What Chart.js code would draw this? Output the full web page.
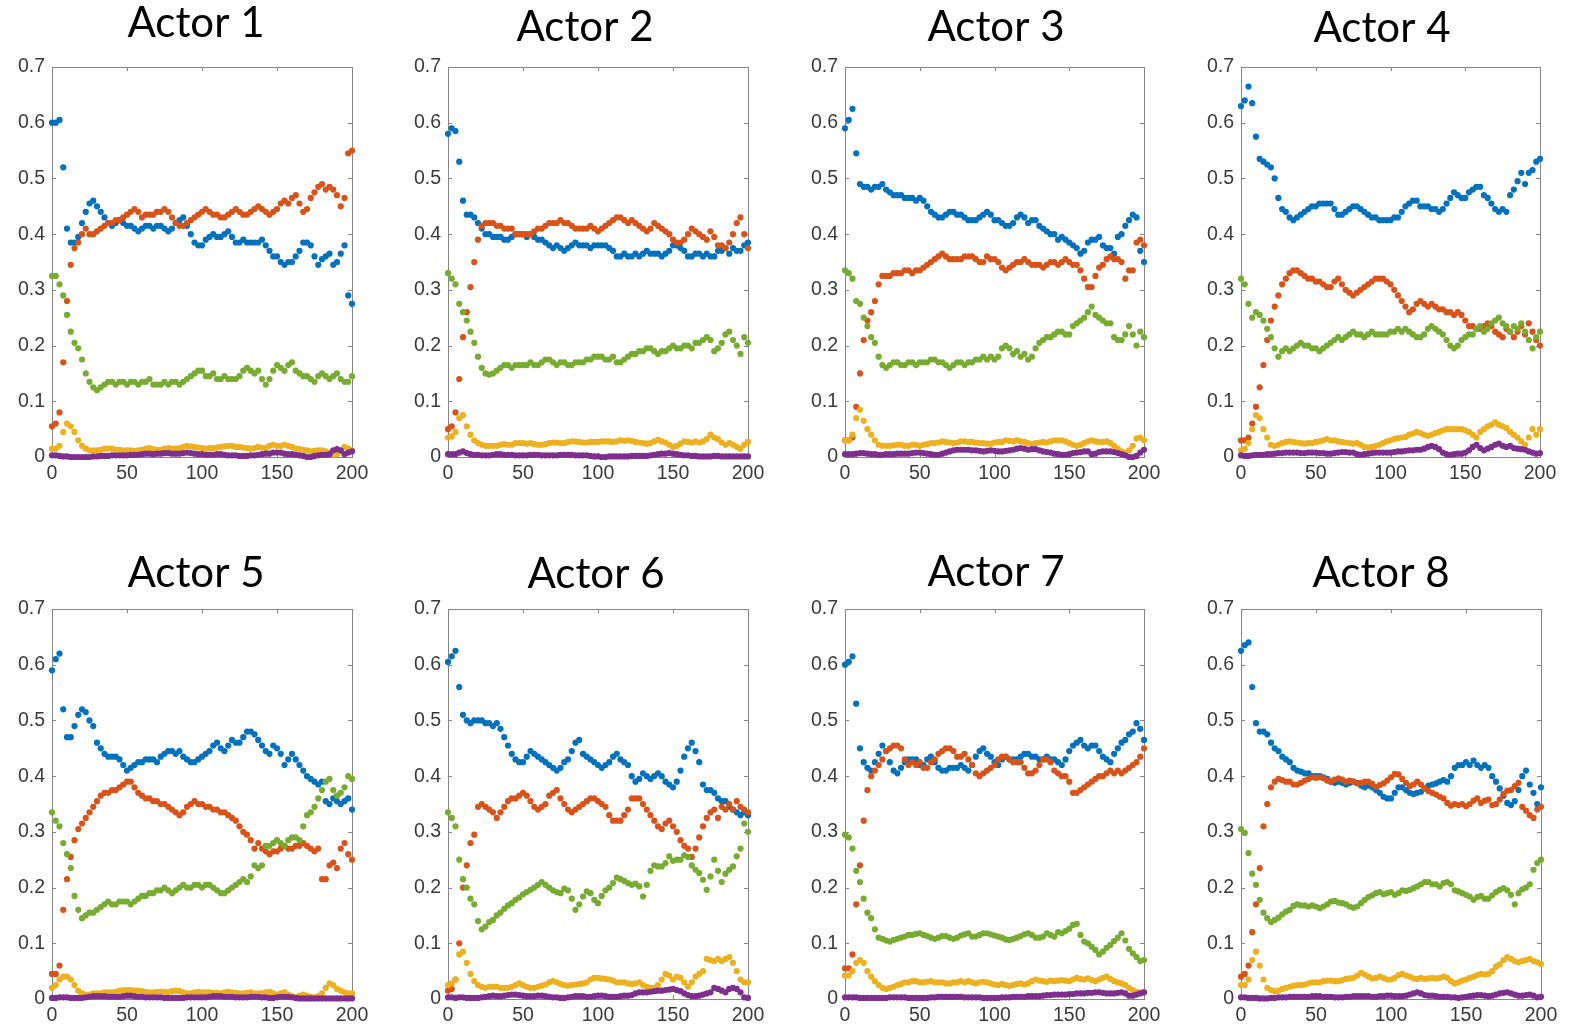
<!DOCTYPE html>
<html><head><meta charset="utf-8">
<script src="https://cdn.jsdelivr.net/npm/chart.js@4.4.1/dist/chart.umd.min.js"></script>
<style>
html,body{margin:0;padding:0;background:#fff;overflow:hidden;width:1570px;height:1028px;position:relative}
canvas{position:absolute}
</style></head><body>
<script>
// ---------- shared categories / ticks ----------
const xs = [0,2.5,5,7.5,10,12.5,15,17.5,20,22.5,25,27.5,30,32.5,35,37.5,40,42.5,45,47.5,50,52.5,55,57.5,60,62.5,65,67.5,70,72.5,75,77.5,80,82.5,85,87.5,90,92.5,95,97.5,100,102.5,105,107.5,110,112.5,115,117.5,120,122.5,125,127.5,130,132.5,135,137.5,140,142.5,145,147.5,150,152.5,155,157.5,160,162.5,165,167.5,170,172.5,175,177.5,180,182.5,185,187.5,190,192.5,195,197.5,200];
const xTicks = [0,50,100,150,200];
const yTicks = [0,0.1,0.2,0.3,0.4,0.5,0.6,0.7];
const titles = ['Actor 1','Actor 2','Actor 3','Actor 4','Actor 5','Actor 6','Actor 7','Actor 8'];

// ---------- Actor 1 ----------
const a1Blue = [.60,.60,.605,.52,.41,.385,.385,.395,.42,.44,
.455,.46,.45,.44,.43,.42,.415,.42,.425,.42,
.415,.415,.41,.405,.41,.415,.415,.41,.415,.415,
.41,.405,.41,.42,.425,.43,.415,.40,.385,.38,
.38,.39,.395,.40,.395,.395,.40,.405,.395,.385,
.385,.39,.385,.385,.385,.385,.39,.38,.37,.36,
.36,.35,.345,.35,.35,.36,.37,.385,.385,.38,
.36,.345,.355,.36,.365,.345,.35,.365,.38,.29,.275];
const a1Orange = [.055,.06,.08,.17,.28,.345,.375,.385,.40,.41,
.40,.40,.405,.41,.415,.42,.42,.425,.425,.43,
.435,.44,.445,.44,.43,.435,.435,.435,.44,.44,
.445,.44,.43,.42,.415,.415,.42,.425,.43,.435,
.44,.445,.44,.435,.435,.43,.43,.435,.44,.445,
.44,.435,.435,.44,.445,.45,.445,.44,.435,.44,
.445,.455,.46,.455,.465,.47,.455,.44,.445,.465,
.475,.485,.49,.48,.485,.48,.47,.45,.465,.545,.55];
const a1Green = [.325,.325,.31,.29,.255,.225,.205,.195,.175,.15,
.135,.125,.12,.125,.13,.135,.135,.13,.135,.135,
.13,.135,.135,.13,.135,.135,.14,.13,.13,.13,
.135,.13,.135,.135,.13,.135,.14,.145,.15,.155,
.155,.145,.145,.15,.14,.14,.145,.14,.14,.14,
.145,.155,.16,.155,.15,.155,.14,.13,.14,.155,
.165,.16,.155,.165,.17,.155,.15,.145,.145,.14,
.135,.145,.15,.145,.14,.145,.15,.14,.135,.135,.145];
const a1Yellow = [.015,.015,.02,.045,.06,.055,.045,.03,.02,.015,
.012,.012,.012,.013,.015,.015,.015,.013,.013,.012,
.012,.012,.011,.012,.013,.015,.016,.014,.013,.013,
.015,.016,.015,.015,.016,.018,.02,.019,.018,.017,
.016,.015,.016,.016,.017,.018,.019,.02,.02,.018,
.018,.017,.016,.015,.016,.018,.017,.016,.02,.022,
.02,.02,.022,.02,.018,.015,.014,.013,.012,.01,
.011,.012,.012,.01,.008,.004,.005,.01,.018,.015,.012];
const a1Purple = [.003,.003,.002,.001,.001,0,0,0,0,0,
0,.001,.001,.002,.002,.002,.003,.003,.003,.003,
.003,.004,.004,.004,.005,.006,.006,.005,.006,.006,
.007,.007,.006,.006,.006,.007,.008,.007,.006,.005,
.005,.004,.004,.004,.005,.005,.004,.003,.003,.003,
.002,.002,.002,.003,.003,.004,.005,.006,.006,.008,
.008,.008,.006,.005,.005,.004,.003,.002,0,0,
.002,.003,.004,.004,.005,.012,.014,.012,.005,.008,.01];

// ---------- Actor 2 ----------
const a2Blue = [.58,.59,.585,.53,.46,.435,.435,.43,.42,.41,
.40,.40,.395,.395,.395,.39,.39,.395,.40,.40,
.40,.395,.40,.395,.39,.39,.385,.38,.375,.38,
.375,.37,.375,.38,.385,.38,.38,.38,.375,.38,
.38,.38,.38,.375,.37,.36,.36,.365,.36,.36,
.365,.36,.365,.37,.365,.365,.365,.36,.365,.37,
.38,.38,.375,.37,.36,.36,.365,.365,.36,.365,
.36,.36,.37,.37,.375,.365,.375,.37,.37,.38,.385];
const a2Orange = [.05,.055,.08,.14,.215,.26,.305,.35,.39,.415,
.42,.42,.42,.415,.415,.41,.41,.41,.40,.40,
.40,.40,.40,.405,.41,.41,.415,.42,.42,.42,
.425,.42,.42,.415,.41,.41,.41,.41,.415,.41,
.405,.41,.415,.42,.425,.43,.43,.425,.42,.425,
.42,.415,.41,.405,.41,.42,.415,.41,.405,.40,
.39,.385,.385,.39,.40,.41,.405,.40,.395,.39,
.405,.395,.38,.38,.375,.385,.40,.42,.43,.40,.375];
const a2Green = [.33,.32,.31,.275,.26,.245,.225,.205,.18,.16,
.15,.148,.15,.155,.16,.165,.165,.16,.165,.165,
.165,.165,.17,.165,.165,.17,.175,.175,.17,.165,
.17,.17,.165,.165,.17,.17,.17,.175,.175,.18,
.18,.18,.175,.175,.18,.17,.17,.175,.18,.185,
.185,.19,.19,.195,.195,.19,.185,.19,.19,.195,
.20,.195,.195,.20,.20,.195,.205,.205,.21,.215,
.21,.19,.195,.205,.22,.225,.21,.20,.185,.215,.205];
const a2Yellow = [.035,.037,.045,.07,.075,.055,.04,.03,.025,.022,
.02,.02,.02,.02,.022,.023,.022,.022,.025,.025,
.025,.024,.025,.023,.022,.022,.023,.025,.026,.026,
.025,.025,.027,.028,.028,.027,.026,.026,.027,.027,
.027,.028,.028,.028,.027,.028,.03,.029,.03,.029,
.027,.026,.025,.024,.025,.028,.031,.028,.026,.022,
.018,.02,.024,.028,.027,.026,.028,.026,.028,.032,
.04,.035,.032,.026,.022,.025,.022,.018,.015,.022,.027];
const a2Purple = [.005,.005,.005,.008,.01,.007,.005,.004,.004,.003,
.003,.003,.004,.005,.005,.004,.004,.004,.003,.003,
.003,.003,.004,.004,.004,.003,.003,.003,.003,.003,
.004,.004,.004,.004,.003,.003,.003,.003,.002,.001,
.001,0,0,.001,.001,.001,.001,.001,.001,.002,
.002,.002,.002,.002,.003,.004,.005,.006,.006,.007,
.006,.005,.004,.003,.003,.002,.002,.001,.001,.001,
.001,.002,.002,.001,.001,.001,.001,.001,.001,.001,.001];

// ---------- Actor 3 ----------
const a3Blue = [.59,.605,.625,.545,.49,.485,.485,.48,.485,.485,
.49,.48,.475,.47,.47,.47,.465,.465,.465,.46,
.465,.46,.45,.44,.435,.43,.43,.435,.44,.44,
.435,.435,.43,.425,.425,.425,.43,.435,.44,.435,
.425,.425,.42,.415,.415,.42,.43,.435,.43,.42,
.425,.425,.415,.41,.405,.40,.40,.39,.395,.39,
.385,.38,.375,.365,.37,.385,.39,.39,.395,.38,
.375,.375,.365,.395,.40,.415,.425,.435,.43,.37,.35];
const a3Orange = [.03,.03,.035,.09,.15,.21,.245,.26,.28,.31,
.325,.325,.325,.33,.33,.33,.335,.335,.33,.335,
.335,.34,.345,.35,.355,.36,.365,.36,.355,.355,
.355,.355,.36,.36,.36,.355,.35,.35,.36,.355,
.355,.35,.34,.335,.34,.345,.35,.35,.355,.35,
.345,.345,.345,.34,.345,.35,.35,.345,.35,.355,
.35,.345,.345,.335,.32,.305,.305,.325,.34,.345,
.355,.36,.355,.355,.35,.32,.335,.335,.385,.39,.38];
const a3Green = [.335,.33,.32,.28,.275,.25,.235,.215,.205,.18,
.165,.16,.165,.17,.17,.165,.165,.17,.17,.165,
.17,.17,.17,.175,.175,.17,.17,.165,.16,.165,
.17,.17,.165,.17,.17,.175,.175,.18,.175,.18,
.175,.18,.195,.20,.195,.185,.19,.18,.185,.175,
.18,.195,.205,.21,.215,.215,.22,.225,.225,.22,
.22,.235,.24,.245,.25,.26,.27,.255,.25,.245,
.24,.24,.215,.21,.21,.22,.235,.22,.20,.225,.215];
const a3Yellow = [.03,.03,.04,.07,.085,.065,.05,.04,.03,.022,
.02,.02,.02,.021,.022,.022,.02,.02,.022,.022,
.02,.022,.023,.025,.025,.026,.028,.027,.026,.025,
.026,.028,.028,.027,.027,.026,.025,.025,.024,.024,
.026,.027,.027,.03,.029,.028,.03,.028,.027,.025,
.023,.025,.026,.027,.026,.028,.03,.03,.03,.028,
.025,.022,.02,.022,.025,.028,.03,.028,.027,.027,
.028,.025,.02,.015,.01,.008,.012,.02,.033,.035,.03];
const a3Purple = [.005,.005,.005,.006,.007,.007,.006,.005,.005,.004,
.004,.005,.005,.005,.006,.006,.006,.006,.007,.008,
.008,.007,.006,.005,.004,.004,.006,.008,.01,.012,
.013,.013,.013,.013,.012,.012,.011,.01,.011,.012,
.011,.01,.01,.011,.012,.013,.015,.016,.015,.013,
.014,.014,.012,.01,.009,.008,.006,.005,.004,.004,
.005,.007,.008,.009,.01,.01,.005,.006,.009,.01,
.01,.01,.009,.007,.005,.003,0,0,.002,.008,.013];

// ---------- Actor 4 ----------
const a4Blue = [.63,.64,.665,.635,.575,.535,.53,.525,.52,.50,
.465,.445,.44,.43,.425,.43,.435,.44,.445,.45,
.45,.455,.455,.455,.455,.445,.435,.435,.44,.445,
.45,.45,.445,.44,.435,.43,.43,.425,.425,.425,
.425,.43,.43,.44,.45,.455,.46,.46,.45,.45,
.45,.445,.445,.44,.445,.455,.465,.475,.47,.465,
.465,.475,.48,.485,.485,.47,.465,.455,.445,.44,
.445,.44,.47,.48,.495,.51,.49,.51,.515,.53,.535];
const a4Orange = [.03,.03,.035,.06,.09,.125,.165,.21,.245,.27,
.29,.31,.32,.33,.335,.335,.33,.325,.32,.32,
.315,.315,.31,.305,.305,.315,.32,.31,.30,.295,
.29,.295,.30,.305,.31,.315,.32,.32,.32,.315,
.31,.30,.29,.28,.27,.26,.265,.275,.28,.275,
.27,.275,.27,.265,.265,.26,.26,.255,.26,.255,
.245,.235,.235,.23,.23,.235,.24,.235,.225,.22,
.215,.23,.225,.215,.225,.235,.22,.24,.225,.21,.20];
const a4Green = [.32,.31,.275,.25,.26,.255,.245,.23,.215,.195,
.18,.19,.195,.19,.195,.20,.205,.20,.20,.195,
.195,.19,.195,.20,.205,.21,.215,.21,.215,.22,
.225,.22,.22,.215,.22,.225,.22,.22,.22,.22,
.225,.225,.23,.225,.23,.225,.22,.215,.215,.22,
.23,.235,.23,.225,.22,.21,.20,.195,.20,.21,
.215,.22,.22,.23,.235,.225,.23,.24,.245,.25,
.24,.235,.225,.235,.23,.24,.225,.21,.195,.215,.225];
const a4Yellow = [.012,.015,.025,.05,.075,.07,.05,.035,.022,.02,
.022,.025,.027,.028,.027,.026,.025,.024,.025,.025,
.027,.028,.03,.032,.03,.03,.028,.027,.026,.025,
.024,.025,.022,.018,.017,.018,.02,.022,.025,.028,
.03,.032,.034,.035,.036,.04,.042,.045,.043,.04,
.038,.04,.043,.045,.048,.05,.05,.05,.05,.05,
.048,.045,.04,.035,.045,.05,.055,.058,.062,.058,
.055,.052,.045,.04,.035,.028,.022,.035,.05,.04,.05];
const a4Purple = [.003,.002,.002,.003,.004,.004,.004,.005,.005,.006,
.007,.007,.008,.008,.008,.008,.007,.007,.008,.008,
.008,.007,.007,.006,.006,.007,.008,.009,.009,.008,
.008,.005,.004,.005,.006,.007,.008,.008,.008,.008,
.008,.009,.01,.01,.011,.012,.012,.013,.013,.015,
.018,.02,.018,.014,.008,.005,.004,.005,.006,.006,
.008,.012,.018,.022,.016,.012,.015,.018,.022,.024,
.02,.018,.02,.016,.015,.014,.013,.01,.008,.006,.007];

// ---------- Actor 5 ----------
const a5Blue = [.59,.61,.62,.52,.47,.47,.49,.51,.52,.515,
.50,.49,.46,.45,.44,.435,.435,.435,.43,.42,
.41,.415,.42,.425,.425,.43,.43,.43,.425,.435,
.44,.445,.445,.44,.445,.435,.43,.425,.425,.43,
.435,.44,.445,.455,.46,.45,.445,.455,.465,.46,
.46,.47,.48,.48,.475,.465,.455,.445,.44,.455,
.45,.44,.42,.43,.44,.43,.42,.41,.40,.395,
.39,.385,.39,.355,.35,.36,.355,.35,.355,.36,.34];
const a5Orange = [.045,.045,.06,.16,.215,.255,.285,.305,.315,.325,
.335,.345,.355,.365,.37,.37,.375,.375,.38,.385,
.39,.39,.38,.37,.365,.36,.36,.355,.355,.35,
.35,.345,.34,.335,.33,.335,.345,.35,.355,.35,
.35,.345,.345,.34,.34,.335,.335,.33,.325,.32,
.31,.30,.295,.285,.27,.28,.27,.265,.26,.265,
.265,.27,.275,.27,.27,.275,.275,.28,.275,.27,
.265,.27,.215,.215,.24,.245,.235,.27,.28,.26,.25];
const a5Green = [.335,.32,.31,.28,.26,.235,.185,.16,.145,.15,
.155,.155,.16,.165,.17,.175,.17,.17,.175,.175,
.175,.17,.175,.18,.185,.185,.19,.19,.195,.195,
.20,.195,.19,.195,.20,.205,.20,.20,.205,.205,
.20,.205,.205,.20,.195,.19,.19,.195,.20,.205,
.21,.215,.21,.22,.24,.235,.24,.275,.275,.28,
.285,.28,.275,.285,.29,.29,.285,.31,.33,.335,
.345,.36,.375,.39,.395,.375,.365,.37,.38,.40,.395];
const a5Yellow = [.02,.025,.035,.04,.04,.035,.025,.015,.01,.008,
.008,.01,.01,.01,.012,.012,.012,.013,.015,.016,
.016,.016,.015,.015,.014,.013,.012,.012,.013,.013,
.013,.012,.014,.015,.014,.012,.01,.01,.012,.013,
.012,.012,.012,.011,.011,.01,.012,.013,.012,.011,
.01,.01,.011,.012,.01,.01,.01,.012,.013,.01,
.008,.01,.012,.008,.005,.003,.006,.008,.006,.004,
.003,.005,.01,.02,.028,.025,.018,.015,.012,.01,.01];
const a5Purple = [.002,.002,.003,.003,.003,.002,.002,.002,.002,.003,
.004,.005,.005,.005,.005,.004,.004,.004,.004,.005,
.006,.006,.005,.004,.004,.003,.003,.003,.003,.003,
.002,.002,.002,.002,.002,.002,.003,.003,.003,.003,
.003,.003,.004,.005,.005,.005,.004,.004,.004,.003,
.003,.003,.003,.004,.004,.004,.003,.003,.002,.002,
.003,.004,.004,.004,.003,.002,.001,.001,.001,.001,
.001,.001,.001,.001,.001,.001,.001,.001,.001,.001,.001];

// ---------- Actor 6 ----------
const a6Blue = [.605,.615,.625,.56,.51,.50,.495,.50,.50,.50,
.495,.495,.49,.495,.485,.47,.455,.44,.43,.425,
.425,.435,.445,.44,.435,.43,.425,.42,.415,.41,
.415,.425,.43,.445,.46,.465,.44,.435,.43,.425,
.42,.415,.42,.425,.435,.44,.43,.425,.42,.40,
.39,.395,.405,.40,.395,.40,.405,.40,.39,.385,
.38,.39,.41,.435,.45,.46,.445,.425,.385,.375,
.375,.37,.36,.355,.355,.345,.34,.335,.33,.335,.33];
const a6Orange = [.015,.018,.035,.10,.20,.24,.28,.295,.345,.35,
.345,.34,.335,.325,.335,.345,.355,.36,.36,.365,
.37,.365,.355,.345,.34,.345,.35,.365,.37,.375,
.36,.35,.34,.335,.34,.345,.35,.355,.36,.36,
.355,.35,.345,.33,.32,.32,.32,.33,.34,.36,
.36,.36,.35,.34,.33,.32,.31,.305,.315,.32,
.31,.30,.285,.275,.27,.255,.27,.29,.31,.325,
.335,.34,.325,.345,.34,.35,.34,.355,.345,.34,.335];
const a6Green = [.335,.325,.31,.25,.215,.20,.18,.17,.14,.125,
.13,.138,.142,.15,.155,.162,.168,.172,.178,.182,
.188,.192,.196,.20,.205,.21,.205,.20,.195,.192,
.19,.198,.195,.18,.16,.17,.184,.193,.19,.178,
.172,.185,.195,.20,.208,.218,.215,.212,.208,.205,
.207,.202,.184,.205,.23,.24,.238,.238,.244,.256,
.248,.25,.25,.258,.255,.24,.232,.226,.214,.196,
.22,.25,.23,.21,.225,.232,.238,.256,.27,.315,.30];
const a6Yellow = [.025,.028,.035,.08,.085,.065,.045,.032,.025,.022,
.02,.022,.022,.022,.02,.02,.02,.022,.025,.028,
.025,.022,.02,.02,.022,.024,.026,.03,.032,.03,
.027,.025,.024,.025,.026,.027,.028,.03,.035,.038,
.038,.037,.036,.035,.033,.03,.03,.03,.028,.027,
.028,.03,.025,.022,.02,.02,.025,.035,.045,.042,
.035,.04,.038,.03,.022,.03,.04,.045,.05,.072,
.07,.068,.072,.068,.072,.075,.065,.05,.035,.03,.03];
const a6Purple = [.003,.003,.002,.003,.003,.002,.002,.002,.002,.003,
.004,.005,.006,.005,.005,.006,.007,.008,.008,.007,
.006,.005,.005,.005,.006,.006,.005,.004,.003,.003,
.002,.002,.003,.004,.005,.005,.005,.004,.004,.005,
.006,.006,.005,.004,.004,.004,.005,.006,.006,.007,
.01,.012,.012,.012,.013,.014,.015,.015,.016,.017,
.018,.016,.014,.01,.007,.005,.005,.006,.008,.01,
.012,.02,.018,.015,.012,.018,.02,.018,.012,.003,.002];

// ---------- Actor 7 ----------
const a7Blue = [.60,.605,.615,.53,.45,.425,.415,.41,.425,.44,
.455,.445,.425,.41,.405,.415,.425,.43,.43,.43,
.42,.42,.43,.435,.425,.415,.41,.41,.415,.415,
.415,.42,.415,.41,.42,.435,.445,.45,.44,.435,
.425,.42,.43,.435,.43,.43,.43,.435,.44,.44,
.435,.435,.43,.43,.435,.43,.43,.425,.42,.43,
.445,.455,.46,.465,.455,.45,.455,.455,.445,.435,
.43,.425,.44,.45,.46,.465,.475,.48,.495,.485,.465];
const a7Orange = [.055,.055,.08,.17,.24,.32,.375,.40,.41,.42,
.43,.445,.45,.455,.455,.45,.43,.42,.425,.42,
.425,.415,.415,.425,.43,.44,.445,.45,.45,.445,
.435,.435,.44,.43,.42,.405,.40,.405,.41,.415,
.42,.43,.435,.435,.43,.425,.425,.425,.415,.405,
.405,.41,.42,.43,.43,.425,.41,.405,.40,.40,
.39,.37,.37,.375,.38,.385,.39,.395,.40,.40,
.405,.41,.405,.41,.405,.41,.415,.42,.425,.435,.45];
const a7Green = [.295,.29,.27,.23,.21,.18,.155,.145,.125,.11,
.108,.105,.103,.106,.108,.11,.112,.115,.115,.117,
.118,.115,.113,.11,.108,.11,.113,.113,.11,.108,
.11,.114,.116,.118,.112,.112,.115,.118,.118,.116,
.114,.112,.11,.107,.106,.108,.11,.113,.116,.118,
.115,.11,.11,.112,.118,.115,.112,.12,.118,.122,
.126,.133,.135,.115,.103,.10,.094,.088,.08,.085,
.092,.097,.104,.11,.118,.105,.09,.082,.075,.068,.07];
const a7Yellow = [.042,.042,.05,.065,.07,.065,.05,.04,.032,.025,
.02,.018,.02,.022,.025,.027,.03,.03,.032,.032,
.03,.03,.031,.032,.03,.03,.03,.028,.028,.03,
.03,.032,.03,.032,.03,.028,.03,.031,.03,.028,
.026,.025,.027,.025,.024,.025,.027,.028,.026,.028,
.032,.035,.033,.032,.031,.033,.032,.033,.034,.033,
.032,.035,.038,.036,.035,.037,.034,.032,.035,.038,
.04,.036,.032,.03,.028,.025,.02,.016,.013,.012,.012];
const a7Purple = [.003,.003,.003,.003,.002,.002,.002,.002,.002,.002,
.002,.002,.003,.003,.003,.003,.003,.002,.002,.002,
.002,.002,.002,.003,.003,.004,.004,.004,.004,.004,
.004,.004,.003,.003,.003,.003,.003,.002,.002,.002,
.002,.002,.003,.003,.003,.004,.004,.004,.004,.005,
.005,.005,.005,.006,.007,.007,.008,.008,.008,.008,
.009,.009,.01,.01,.01,.011,.011,.012,.012,.011,
.01,.01,.01,.011,.012,.01,.006,.006,.008,.01,.012];

// ---------- Actor 8 ----------
const a8Blue = [.625,.635,.64,.56,.495,.48,.48,.475,.46,.45,
.445,.435,.43,.425,.415,.41,.408,.405,.405,.40,
.40,.40,.398,.395,.39,.388,.39,.388,.385,.388,
.39,.388,.383,.38,.383,.38,.375,.37,.363,.36,
.36,.37,.38,.38,.375,.37,.368,.37,.372,.378,
.383,.385,.387,.39,.393,.39,.40,.415,.42,.42,
.425,.42,.428,.42,.415,.42,.415,.40,.39,.378,
.365,.352,.348,.355,.375,.40,.41,.385,.37,.35,.38];
const a8Orange = [.04,.045,.06,.12,.17,.235,.31,.35,.38,.39,
.395,.393,.39,.39,.385,.385,.388,.392,.395,.398,
.397,.398,.396,.392,.39,.394,.396,.394,.39,.392,
.39,.387,.388,.39,.39,.386,.381,.384,.387,.392,
.398,.404,.403,.395,.388,.382,.385,.39,.385,.378,
.373,.37,.367,.363,.36,.352,.347,.35,.348,.35,
.346,.35,.356,.36,.352,.356,.358,.348,.35,.358,
.368,.374,.375,.382,.388,.345,.338,.33,.325,.34,.345];
const a8Green = [.305,.298,.262,.225,.205,.178,.155,.145,.138,.142,
.146,.152,.157,.16,.167,.17,.168,.168,.166,.168,
.166,.163,.166,.17,.175,.176,.173,.172,.17,.166,
.164,.166,.172,.178,.183,.186,.19,.192,.188,.19,
.192,.187,.19,.195,.194,.196,.199,.202,.206,.21,
.21,.206,.206,.202,.208,.21,.206,.195,.193,.19,
.187,.184,.178,.183,.185,.18,.18,.186,.192,.196,
.199,.195,.187,.17,.19,.197,.20,.206,.232,.244,.25];
const a8Yellow = [.025,.025,.035,.07,.085,.06,.035,.02,.016,.014,
.015,.018,.02,.022,.024,.025,.025,.026,.028,.03,
.03,.03,.032,.033,.033,.032,.032,.034,.036,.037,
.038,.042,.047,.044,.04,.037,.038,.04,.038,.035,
.035,.038,.043,.045,.042,.04,.037,.036,.038,.036,
.037,.038,.037,.038,.04,.038,.032,.028,.03,.033,
.035,.038,.04,.043,.045,.044,.045,.05,.058,.062,
.07,.075,.072,.068,.066,.068,.07,.072,.068,.066,.063];
const a8Purple = [.003,.003,.002,.002,.002,.001,.001,.001,.002,.002,
.003,.003,.003,.004,.004,.004,.004,.004,.004,.005,
.005,.005,.004,.004,.004,.003,.003,.003,.004,.004,
.005,.005,.005,.005,.005,.004,.004,.005,.005,.006,
.006,.005,.005,.005,.006,.008,.01,.012,.01,.007,
.006,.006,.005,.004,.004,.004,.003,.003,.002,.003,
.004,.005,.006,.007,.007,.006,.005,.006,.008,.01,
.011,.012,.01,.008,.006,.006,.007,.008,.006,.003,.004];

// ---------- styling / layout (not data) ----------
const COLORS = {blue:'#0072BD', orange:'#D95319', yellow:'#EDB120', purple:'#7E2F8E', green:'#77AC30'};
const AXIS_W = 52, TOP_PAD = 67, X_AXIS_H = 40, PLOT_H = 390, RIGHT_PAD = 40;
const panels = [
  {left:0,    top:0,   plotW:300, tx:196,  ty:37,  s:[a1Blue,a1Orange,a1Yellow,a1Purple,a1Green]},
  {left:396,  top:0,   plotW:300, tx:585,  ty:41,  s:[a2Blue,a2Orange,a2Yellow,a2Purple,a2Green]},
  {left:793,  top:0,   plotW:299, tx:996,  ty:41,  s:[a3Blue,a3Orange,a3Yellow,a3Purple,a3Green]},
  {left:1189, top:0,   plotW:299, tx:1382, ty:42,  s:[a4Blue,a4Orange,a4Yellow,a4Purple,a4Green]},
  {left:0,    top:542, plotW:300, tx:196,  ty:587, s:[a5Blue,a5Orange,a5Yellow,a5Purple,a5Green]},
  {left:396,  top:542, plotW:300, tx:596,  ty:588, s:[a6Blue,a6Orange,a6Yellow,a6Purple,a6Green]},
  {left:793,  top:542, plotW:299, tx:996,  ty:586, s:[a7Blue,a7Orange,a7Yellow,a7Purple,a7Green]},
  {left:1189, top:542, plotW:300, tx:1381, ty:587, s:[a8Blue,a8Orange,a8Yellow,a8Purple,a8Green]}
];

const framePlugin = {
  id: 'frame',
  beforeDatasetsDraw(chart) {
    const {ctx, chartArea: a, scales} = chart;
    ctx.save();
    ctx.strokeStyle = '#858585';
    ctx.lineWidth = 1;
    ctx.strokeRect(a.left + 0.5, a.top + 0.5, a.right - a.left, a.bottom - a.top);
    ctx.beginPath();
    const TL = 4;
    xTicks.forEach(v => {
      const px = Math.round(scales.x.getPixelForValue(v)) + 0.5;
      ctx.moveTo(px, a.bottom); ctx.lineTo(px, a.bottom - TL);
      ctx.moveTo(px, a.top); ctx.lineTo(px, a.top + TL);
    });
    yTicks.forEach(v => {
      const py = Math.round(scales.y.getPixelForValue(v)) + 0.5;
      ctx.moveTo(a.left, py); ctx.lineTo(a.left + TL, py);
      ctx.moveTo(a.right, py); ctx.lineTo(a.right - TL, py);
    });
    ctx.stroke();
    ctx.restore();
  }
};

const headingPlugin = {
  id: 'heading',
  afterDraw(chart, args, opts) {
    const ctx = chart.ctx;
    ctx.save();
    ctx.font = '42px Lato, "Open Sans", sans-serif';
    ctx.fillStyle = '#000';
    ctx.textAlign = 'center';
    ctx.textBaseline = 'alphabetic';
    ctx.fillText(opts.text, opts.x, opts.y);
    ctx.restore();
  }
};

function makeSet(arr, color) {
  return {
    data: xs.map((x, i) => ({x: x, y: arr[i]})),
    backgroundColor: color,
    borderWidth: 0,
    pointRadius: 3.1,
    pointHoverRadius: 3.1,
    clip: false
  };
}

const tickFont = {family: '"Liberation Sans", Arial, Helvetica, sans-serif', size: 19.5};

panels.forEach((p, idx) => {
  const cv = document.createElement('canvas');
  const W = AXIS_W + p.plotW + RIGHT_PAD;
  const H = TOP_PAD + PLOT_H + X_AXIS_H;
  cv.width = W; cv.height = H;
  cv.style.left = p.left + 'px';
  cv.style.top = p.top + 'px';
  cv.style.width = W + 'px'; cv.style.height = H + 'px';
  document.body.appendChild(cv);
  const [b, o, y, pu, g] = p.s;
  new Chart(cv.getContext('2d'), {
    type: 'scatter',
    data: {
      datasets: [
        makeSet(g, COLORS.green),
        makeSet(pu, COLORS.purple),
        makeSet(y, COLORS.yellow),
        makeSet(o, COLORS.orange),
        makeSet(b, COLORS.blue)
      ]
    },
    options: {
      responsive: false,
      animation: false,
      devicePixelRatio: 1,
      events: [],
      layout: {padding: {top: TOP_PAD, right: RIGHT_PAD, left: 0, bottom: 0}},
      plugins: {
        legend: {display: false},
        tooltip: {enabled: false},
        title: {display: false},
        heading: {text: titles[idx], x: p.tx - p.left, y: p.ty - p.top}
      },
      scales: {
        x: {
          type: 'linear', min: 0, max: 200,
          afterFit: s => { s.height = X_AXIS_H; },
          afterBuildTicks: s => { s.ticks = xTicks.map(v => ({value: v})); },
          grid: {display: false, drawTicks: false},
          border: {display: false},
          ticks: {color: '#3a3a3a', font: tickFont, padding: 5, maxRotation: 0, autoSkip: false,
                  callback: v => String(v)}
        },
        y: {
          type: 'linear', min: 0, max: 0.7,
          afterFit: s => { s.width = AXIS_W; },
          afterBuildTicks: s => { s.ticks = yTicks.map(v => ({value: v})); },
          grid: {display: false, drawTicks: false},
          border: {display: false},
          ticks: {color: '#3a3a3a', font: tickFont, padding: 7, autoSkip: false,
                  callback: v => String(+Number(v).toFixed(1))}
        }
      }
    },
    plugins: [framePlugin, headingPlugin]
  });
});
</script>
</body></html>
